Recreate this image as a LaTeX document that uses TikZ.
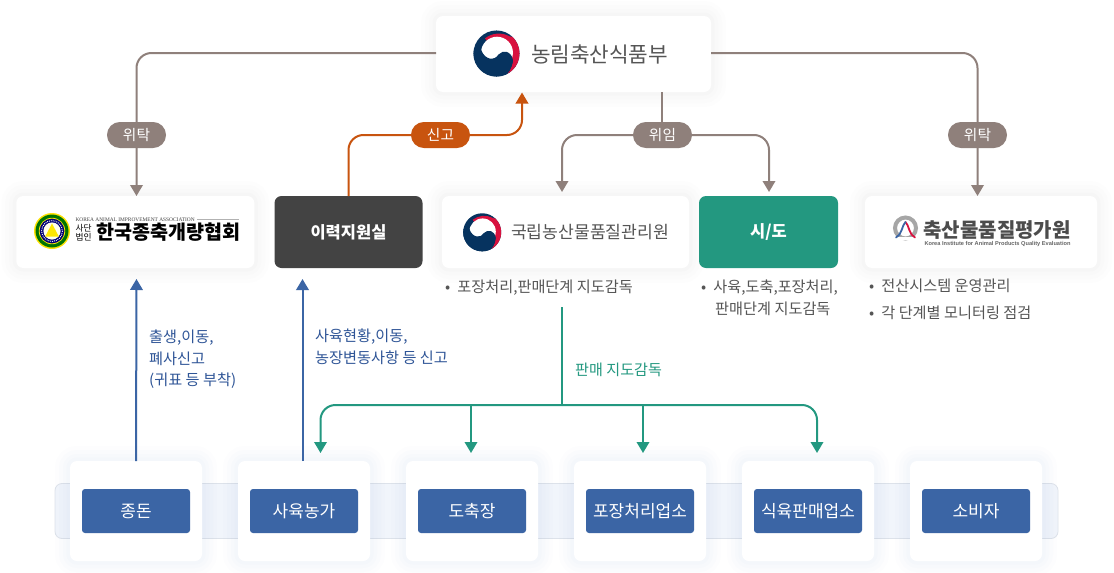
\documentclass[tikz,border=0pt]{standalone}
\usepackage{fontspec}
\setmainfont{Noto Sans CJK KR}
\newfontfamily\logoserif{Liberation Serif}
\newfontfamily\logosans{Liberation Sans}
\usetikzlibrary{arrows.meta,calc}
\definecolor{conbrown}{HTML}{8F807B}
\definecolor{conorange}{HTML}{C8540F}
\definecolor{conblue}{HTML}{3B65A5}
\definecolor{congreen}{HTML}{239880}
\definecolor{darkbox}{HTML}{434343}
\definecolor{bodytext}{HTML}{555555}
\definecolor{bluetext}{HTML}{2F5597}
\definecolor{bandfill}{HTML}{F1F5FB}
\definecolor{bandline}{HTML}{DDE2EA}
\definecolor{navy}{HTML}{06335F}
\definecolor{tred}{HTML}{D8123F}
\definecolor{shadowgray}{HTML}{8A8A90}
\definecolor{shadowblue}{HTML}{6F93D8}
\newcommand{\fs}[2]{\fontsize{#1}{#2}\selectfont}
\newcommand{\lowered}[1]{\raisebox{-1pt}{#1}}
\tikzset{
  softshadow/.style={
    preaction={draw=#1,opacity=.012,line width=30pt},
    preaction={draw=#1,opacity=.014,line width=22pt},
    preaction={draw=#1,opacity=.016,line width=14pt},
    preaction={draw=#1,opacity=.018,line width=7pt}},
  box/.style={rectangle,rounded corners=7pt,inner sep=0pt,outer sep=0pt,
    minimum width=#1,minimum height=72pt},
  logobox/.style={box=#1,fill=white,softshadow=shadowgray},
  card/.style={rectangle,rounded corners=7pt,inner sep=0pt,outer sep=0pt,
    minimum width=132pt,minimum height=100pt,fill=white,softshadow=shadowblue},
  stage/.style={rectangle,rounded corners=3pt,inner sep=0pt,outer sep=0pt,
    minimum width=108pt,minimum height=44pt,fill=conblue,text=white,
    font=\fs{17}{20}},
  conn/.style={draw=#1,line width=2pt,rounded corners=15pt,
    -{Triangle[width=12.5pt,length=11pt]}},
  plainconn/.style={draw=#1,line width=2pt,rounded corners=15pt},
  pill/.style={rectangle,rounded corners=12.9pt,inner sep=0pt,outer sep=0pt,
    minimum width=59pt,minimum height=26pt,fill=#1,text=white,font=\fs{14.7}{18}},
  bodynote/.style={anchor=north west,align=left,inner sep=0pt,text=bodytext,font=\fs{15.2}{22}},
  bluenote/.style={anchor=north west,align=left,inner sep=0pt,text=bluetext,font=\fs{15.2}{21.7}},
  logotext/.style={anchor=west,inner sep=0pt,outer sep=0pt},
  taeguk/.pic={
    \fill[navy] (0,0) circle (70);
    \begin{scope}
      \clip (0,0) circle (70);
      \fill[tred] (-35,-46) .. controls (-15,-62) and (15,-66) .. (40,-52)
        -- (80,-45) -- (80,78) -- (22,72)
        .. controls (35,62) and (48,45) .. (50,20) -- (0,0) -- cycle;
      \fill[white] (1.5,-2.5) circle (48.5);
      \fill[navy] (-75,-12) -- (-47,-12) .. controls (-35,22) and (-5,22) .. (6,3)
        .. controls (20,-12) and (45,-8) .. (50,20)
        .. controls (48,45) and (35,62) .. (22,72) -- (-75,78) -- cycle;
    \end{scope}
  }
}
\begin{document}
\begin{tikzpicture}[x=1pt,y=-1pt]
\useasboundingbox (0,0) rectangle (1114,573);
\fill[white] (0,0) rectangle (1114,573);

% band and stage cards
\node[rectangle,rounded corners=7pt,minimum width=1003pt,minimum height=55pt,inner sep=0pt,
  fill=bandfill,draw=bandline,line width=.8pt] (band) at (556.5,511) {};
\node[card] (c1) at (136,511) {};
\node[card] (c2) at (304,511) {};
\node[card] (c3) at (472,511) {};
\node[card] (c4) at (640,511) {};
\node[card] (c5) at (808,511) {};
\node[card] (c6) at (976,511) {};
\node[stage] (s1) at (136,511) {\lowered{종돈}};
\node[stage] (s2) at (304,511) {\lowered{사육농가}};
\node[stage] (s3) at (472,511) {\lowered{도축장}};
\node[stage] (s4) at (640,511) {\lowered{포장처리업소}};
\node[stage] (s5) at (808,511) {\lowered{식육판매업소}};
\node[stage] (s6) at (976,511) {\lowered{소비자}};

% upper boxes
\node[box=275pt,minimum height=76pt,fill=white,softshadow=shadowgray] (top) at (573.5,54) {};
\node[logobox=238pt] (assoc) at (135.3,232) {};
\node[box=148pt,fill=darkbox,text=white,font=\fs{16.5}{20}\bfseries] (trace) at (348.5,232) {\lowered{이력지원실}};
\node[logobox=247pt] (naqs) at (565.5,232) {};
\node[box=139pt,fill=congreen,text=white,font=\fs{16.5}{20}\bfseries] (sido) at (768.5,232) {\lowered{시/도}};
\node[logobox=232pt] (kape) at (981,232) {};

% free ends
\coordinate (mstart) at (662,92);
\coordinate (msplit) at (662,135);
\coordinate (mleft) at (562,192);
\coordinate (mright) at (769,192);
\coordinate (otip) at (522,92.5);
\coordinate (bt1) at (136.5,279);
\coordinate (bt2) at (302.5,279);
\coordinate (gstart) at (562,307);
\coordinate (gmid) at (562,405);
\coordinate (gb) at (471,405);
\coordinate (gc) at (643,405);
\coordinate (g1) at (320.5,453);
\coordinate (g2) at (471,453);
\coordinate (g3) at (643,453);
\coordinate (g4) at (817,453);

% connectors
\draw[conn=conbrown] ([yshift=1pt]top.west) -| ([xshift=1.2pt]assoc.north);
\draw[conn=conbrown] ([yshift=1pt]top.east) -| ([xshift=-3.5pt]kape.north);
\draw[plainconn=conbrown] (mstart) -- (msplit);
\draw[conn=conbrown] (msplit) -| (mleft);
\draw[conn=conbrown] (msplit) -| (mright);
\draw[conn=conorange] (trace.north) |- ($(otip)+(0,42.5)$) -- (otip);
\draw[conn=conblue] (c1.north) -- (bt1);
\draw[conn=conblue] ([xshift=-1.5pt]c2.north) -- (bt2);
\draw[plainconn=congreen] (gstart) -- (gmid);
\draw[conn=congreen] (gmid) -| (g1);
\draw[conn=congreen] (gmid) -| (g4);
\draw[conn=congreen] (gb) -- (g2);
\draw[conn=congreen] (gc) -- (g3);

% pills
\node[pill=conbrown] (p1) at (136.5,135) {\lowered{위탁}};
\node[pill=conorange] (p2) at (440.5,135) {\lowered{신고}};
\node[pill=conbrown] (p3) at (662.5,135) {\lowered{위임}};
\node[pill=conbrown] (p4) at (977.5,135) {\lowered{위탁}};

% logos
\pic[scale=.329] at (496.5,53.5) {taeguk};
\node[logotext,text=bodytext,font=\fs{21.3}{24}] (mafra) at (531,54.5) {농림축산식품부};
\pic[scale=.272] at (482.2,232.3) {taeguk};
\node[logotext,text=bodytext,font=\fs{17.2}{20}] (naqst) at (511,232.5) {국립농산물품질관리원};

% association logo
\fill[yellow!85!orange] (52,231) circle (18);
\fill[green!45!black] (52,231) circle (16.5);
\fill[yellow!90!orange] (52,231) circle (13.2);
\fill[blue!45!black] (52,231) circle (12.4);
\draw[white,densely dotted,line width=.9pt] (52,231) circle (10.4);
\fill[white!92!yellow] (52,231) circle (8.6);
\fill[yellow!90!orange] (52,223.5) -- (58.8,236.5) -- (45.2,236.5) -- cycle;
\node[logotext,font=\logoserif\fs{5.4}{7},text=black!75] (ka) at (75.5,219.5) {KOREA ANIMAL IMPROVEMENT ASSOCIATION};
\draw[black!30,line width=.7pt] (197,219.5) -- (239,219.5);
\node[logotext,align=center,font=\fs{8.7}{9.6},text=black] (sa) at (75.5,232.5) {사단\\법인};
\node[logotext,font=\fs{19.6}{22}\bfseries,text=black] (kn) at (96.5,232.5) {한국종축개량협회};

% KAPE logo
\draw[gray!70,line width=4pt] (905.5,228) circle (10.5);
\fill[white] (896,237) rectangle (915,240);
\draw[tred,line width=1.8pt,line cap=round] (905.5,222) .. controls (909,225) and (909,235) .. (915,237.5);
\draw[conblue,line width=1.8pt,line cap=round] (905.5,222) .. controls (902,225) and (902,235) .. (896,237.5);
\node[logotext,font=\fs{20}{24}\bfseries,text=black!70] (kt) at (923.5,230) {축산물품질평가원};
\node[logotext,font=\logosans\bfseries\fs{5.65}{7},text=black!60] (ke) at (924.5,244.5) {Korea Institute for Animal Products Quality Evaluation};

% notes
\node[bodynote] (n1) at (445,280) {•\hspace{7pt}포장처리,판매단계 지도감독};
\node[bodynote] (n2) at (701,280) {•\hspace{7pt}사육,도축,포장처리,\\\hspace{14pt}판매단계 지도감독};
\node[bodynote,font=\fs{15.2}{27}] (n3) at (869,279) {•\hspace{7pt}전산시스템 운영관리\\•\hspace{7pt}각 단계별 모니터링 점검};
\node[bluenote] (b1) at (149,329.5) {출생,이동,\\폐사신고\\(귀표 등 부착)};
\node[bluenote] (b2) at (315,329) {사육현황,이동,\\농장변동사항 등 신고};
\node[anchor=north west,inner sep=0pt,text=congreen,font=\fs{15.1}{22}] (gl) at (575,363) {판매 지도감독};
\end{tikzpicture}
\end{document}
